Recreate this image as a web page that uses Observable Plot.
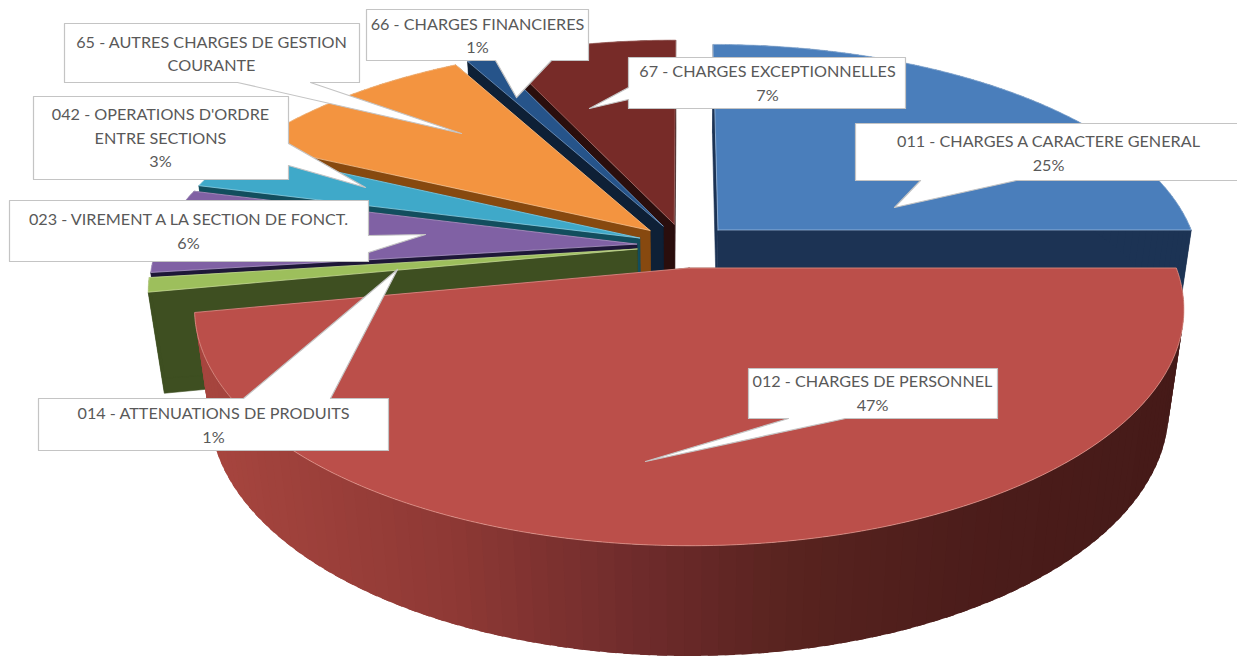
<!DOCTYPE html>
<html>
<head>
<meta charset="utf-8">
<style>html,body{margin:0;padding:0;background:#fff}svg{display:block}</style>
<script src="https://cdn.jsdelivr.net/npm/d3@7"></script>
<script src="https://cdn.jsdelivr.net/npm/@observablehq/plot@0.6"></script>
</head>
<body>
<div id="chart"></div>
<script>
// ---- data (clockwise from 12 o'clock)
const codes = ["011","012","014","023","042","65","66","67"];
const names = [
  ["011 - CHARGES A CARACTERE GENERAL"],
  ["012 - CHARGES DE PERSONNEL"],
  ["014 - ATTENUATIONS DE PRODUITS"],
  ["023 - VIREMENT A LA SECTION DE FONCT."],
  ["042 - OPERATIONS D'ORDRE","ENTRE SECTIONS"],
  ["65 - AUTRES CHARGES DE GESTION","COURANTE"],
  ["66 - CHARGES FINANCIERES"],
  ["67 - CHARGES EXCEPTIONNELLES"]
];
const values = [25,47,1,6,3,10,1,7];
const percentLabels = ["25%","47%","1%","6%","3%",null,"1%","7%"];

// ---- styles
const topColors  = ["#4a7ebb","#bb4f4a","#9dbf5c","#8061a4","#3fa9c9","#f39440","#26548a","#772b28"];
const wallColors = ["#1c3354","#4d1d1b","#3e4f21","#1e1738","#124e5e","#87490f","#0e2036","#2a0e0d"];
const rimColors  = ["#9fbde0","#e39a90","#c9dc9a","#b3a0cb","#93d2e4","#f8c596","#7f9fc6","#a9706c"];
const redWallStops = [[190,"#a8463f"],[450,"#8f3935"],[650,"#6e2b2b"],[800,"#58231f"],[1000,"#4b1c1a"],[1190,"#451a18"]];

// ---- 3D pie projection
const view = {cx:684, cy:245, a:222, b:479, k:0.17, explode:0.1, depth:102, shrink:0.03};
const total = d3.sum(values);
const cum = d3.cumsum(values);
const slices = codes.map((code,i)=>{
  const t1 = cum[i]/total*2*Math.PI, t0 = t1 - values[i]/total*2*Math.PI;
  return {i, code, t0, t1, m:(t0+t1)/2};
});
function project(s, theta, r, z){
  const X = view.explode*Math.sin(s.m) + r*Math.sin(theta);
  const Y = -view.explode*Math.cos(s.m) - r*Math.cos(theta);
  const w = 1 - view.k*Y + z*view.shrink;
  return {x: view.cx + view.b*X/w, y: view.cy + (view.a*Y + z*view.depth)/w};
}
const redRamp = d3.scaleLinear().domain(redWallStops.map(d=>d[0])).range(redWallStops.map(d=>d[1])).clamp(true);

function poly(id, pts, fill){ return pts.concat(pts[0]).map(p=>({id, x:p.x, y:p.y, fill})); }

function sliceMarks(s){
  const radialRows = [], stripRows = [], c = wallColors[s.i];
  // radial walls
  for (const [n,t] of [["a",s.t0],["b",s.t1]]) {
    radialRows.push(...poly(s.code+n,[project(s,t,0,0),project(s,t,1,0),project(s,t,1,1),project(s,t,0,1)],c));
  }
  // outer wall, in strips; each strip overlaps the next so no seam shows
  const steps = Math.max(2, Math.ceil((s.t1-s.t0)/0.03));
  for (let j=0;j<steps;j++){
    const u=s.t0+(s.t1-s.t0)*j/steps, v=s.t0+(s.t1-s.t0)*(j+1.6)/steps;
    const vEnd=Math.min(v,s.t1);
    const p=project(s,u,1,0);
    stripRows.push(...poly(s.code+"o"+j,[p,project(s,vEnd,1,0),project(s,vEnd,1,1),project(s,u,1,1)],
      s.code==="012"?redRamp(p.x):c));
  }
  const fine = Math.ceil((s.t1-s.t0)/0.01)+1;
  const top=[project(s,s.t0,0,0)];
  for(let j=0;j<=fine;j++) top.push(project(s,s.t0+(s.t1-s.t0)*j/fine,1,0));
  return [
    Plot.line(radialRows,{x:"x",y:"y",z:"id",fill:"fill",stroke:"fill",strokeWidth:0.6,curve:"linear"}),
    Plot.line(stripRows,{x:"x",y:"y",z:"id",fill:"fill",stroke:"none",curve:"linear"}),
    Plot.line(poly(s.code+"t",top,topColors[s.i]),{x:"x",y:"y",z:"id",fill:"fill",stroke:rimColors[s.i],strokeWidth:1,strokeOpacity:0.75,curve:"linear"})
  ];
}
// far slices first, the front slice last
const paintOrder = ["67","66","65","042","023","014","011","012"];

// ---- label boxes (annotation layout)
const boxes = {
  "011":{x0:855,x1:1242,y0:123,y1:180,cx:1048,ys:[141,165],side:"bottom",a:1016,b:920,tip:[894,207]},
  "012":{x0:748,x1:997,y0:368,y1:418,cx:872,ys:[381,405],side:"bottom",a:845,b:788,tip:[645,461]},
  "014":{x0:38,x1:388,y0:398,y1:450,cx:213,ys:[413,437],side:"top",a:243,b:330,tip:[397,269]},
  "023":{x0:9,x1:368,y0:200,y1:261,cx:188,ys:[219,243],side:"right",a:235,b:252,tip:[425,234]},
  "042":{x0:33,x1:288,y0:96,y1:179,cx:160,ys:[114,138,161],side:"right",a:143,b:165,tip:[365,187]},
  "65": {x0:64,x1:359,y0:23,y1:82,cx:211,ys:[42,65],side:"bottom",a:310,b:237,tip:[461,133]},
  "66": {x0:366,x1:588,y0:9,y1:60,cx:477,ys:[24,47],side:"bottom",a:551,b:495,tip:[516,97]},
  "67": {x0:628,x1:905,y0:57,y1:108,cx:767,ys:[71,95],side:"left",a:99,b:87,tip:[589,108]}
};
function outline(code){
  const q=boxes[code], P=(x,y)=>({x,y}), t=P(q.tip[0],q.tip[1]);
  const pts=[P(q.x0,q.y0)];
  if(q.side==="top") pts.push(P(q.a,q.y0),t,P(q.b,q.y0));
  pts.push(P(q.x1,q.y0));
  if(q.side==="right") pts.push(P(q.x1,q.a),t,P(q.x1,q.b));
  pts.push(P(q.x1,q.y1));
  if(q.side==="bottom") pts.push(P(q.a,q.y1),t,P(q.b,q.y1));
  pts.push(P(q.x0,q.y1));
  if(q.side==="left") pts.push(P(q.x0,q.a),t,P(q.x0,q.b));
  return poly(code+"box",pts,"#ffffff");
}
const boxRows = codes.flatMap(outline);
const textRows = codes.flatMap((code,i)=>{
  const lines = names[i].concat(percentLabels[i]?[percentLabels[i]]:[]);
  return lines.map((text,j)=>({x:boxes[code].cx,y:boxes[code].ys[j],text}));
});

const plot = Plot.plot({
  width:1237, height:656, margin:0,
  style:{background:"#fff"},
  x:{domain:[0,1237],range:[0,1237],axis:null},
  y:{domain:[0,656],range:[0,656],axis:null},
  color:{type:"identity"},
  marks:[
    ...paintOrder.flatMap(code=>sliceMarks(slices[codes.indexOf(code)])),
    Plot.line(boxRows,{x:"x",y:"y",z:"id",fill:"fill",stroke:"#c4c4c4",strokeWidth:1.2,curve:"linear"}),
    Plot.text(textRows,{x:"x",y:"y",text:"text",fill:"#595959",fontSize:16.2,fontFamily:"Lato",lineAnchor:"middle"})
  ]
});
document.getElementById("chart").append(plot);
</script>
</body>
</html>
